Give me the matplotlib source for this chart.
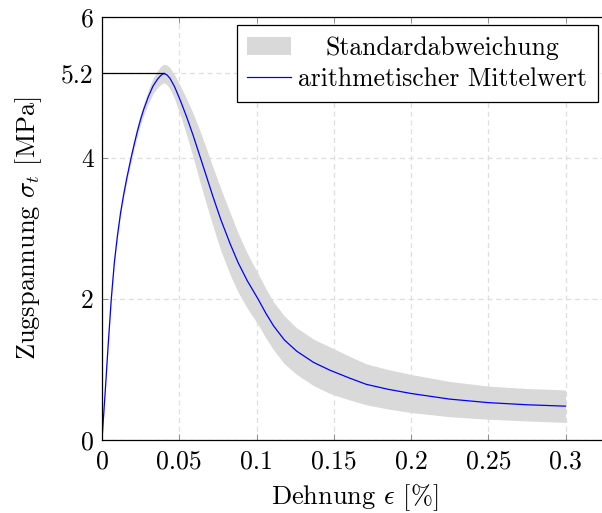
import numpy as np
import matplotlib.pyplot as plt

# Dehnung [%]
strain = [0.0, 0.002, 0.004, 0.006, 0.008, 0.010, 0.012, 0.014, 0.016, 0.019,
          0.021, 0.023, 0.025, 0.027, 0.030, 0.033, 0.036, 0.038, 0.040, 0.042,
          0.044, 0.047, 0.051, 0.055, 0.059, 0.063, 0.067, 0.072, 0.077, 0.083,
          0.088, 0.094, 0.101, 0.106, 0.111, 0.118, 0.126, 0.137, 0.1475, 0.160,
          0.171, 0.185, 0.200, 0.225, 0.250, 0.275, 0.300]
# arithmetischer Mittelwert [MPa]
stress_mean = [0.0, 0.66, 1.35, 2.0, 2.52, 2.90, 3.22, 3.48, 3.71, 4.02,
               4.21, 4.39, 4.55, 4.69, 4.87, 5.02, 5.12, 5.17, 5.20, 5.18,
               5.13, 5.01, 4.80, 4.57, 4.32, 4.05, 3.78, 3.44, 3.12, 2.78,
               2.52, 2.26, 2.0, 1.80, 1.62, 1.42, 1.26, 1.10, 0.99, 0.88,
               0.79, 0.72, 0.66, 0.58, 0.53, 0.50, 0.48]
# Standardabweichung [MPa]
stress_std = [0.0, 0.01, 0.02, 0.03, 0.03, 0.04, 0.04, 0.05, 0.05, 0.06,
              0.06, 0.07, 0.08, 0.08, 0.10, 0.11, 0.12, 0.13, 0.13, 0.14,
              0.15, 0.17, 0.21, 0.26, 0.31, 0.36, 0.39, 0.42, 0.44, 0.44,
              0.42, 0.39, 0.36, 0.35, 0.34, 0.34, 0.33, 0.33, 0.33, 0.31,
              0.29, 0.28, 0.27, 0.25, 0.235, 0.23, 0.23]

xticks = [0, 0.05, 0.1, 0.15, 0.2, 0.25, 0.3]
xticklabels = ['0', '0.05', '0.1', '0.15', '0.2', '0.25', '0.3']
yticks = [0, 2, 4, 5.2, 6]
yticklabels = ['0', '2', '4', '5.2', '6']

plt.rcParams['font.family'] = ['cmr10', 'DejaVu Serif']
plt.rcParams['mathtext.fontset'] = 'cm'
plt.rcParams['axes.unicode_minus'] = False

x = np.array(strain)
m = np.array(stress_mean)
s = np.array(stress_std)

fig = plt.figure(figsize=(6.02, 5.13), dpi=100)
ax = fig.add_axes([102 / 602, 73 / 513, 506 / 602, 423 / 513])

ax.fill_between(x, m - s, m + s, color='#d9d9d9', linewidth=0, label='Standardabweichung')
ax.plot(x, m, color='#0000ff', lw=0.9, label='arithmetischer Mittelwert')

# line to the peak value
ipk = int(np.argmax(m))
ax.plot([0, x[ipk]], [m[ipk], m[ipk]], color='black', lw=0.9)

ax.set_xlim(0, 0.3275)
ax.set_ylim(0, 6)
ax.set_xticks(xticks)
ax.set_xticklabels(xticklabels)
ax.set_yticks(yticks)
ax.set_yticklabels(yticklabels)
ax.tick_params(direction='in', length=4, width=0.6, color='#808080', labelsize=18.5,
               top=True, right=True)
ax.tick_params(axis='x', pad=7)
ax.tick_params(axis='y', pad=6)
ax.grid(True, color='#dedede', lw=0.9, ls=(0, (4, 3)))
ax.set_axisbelow(True)
for sp in ax.spines.values():
    sp.set_linewidth(0.9)

ax.set_xlabel('Dehnung $\\epsilon$ [%]', fontsize=19, labelpad=6)
ax.set_ylabel('Zugspannung $\\sigma_t$ [MPa]', fontsize=19, labelpad=12)

leg = ax.legend(loc='upper right', bbox_to_anchor=(0.98, 0.98), borderaxespad=0,
                fontsize=18.5, fancybox=False, edgecolor='black', framealpha=1,
                handlelength=1.7, handletextpad=0.27, labelspacing=0.28, borderpad=0.42)
leg.get_frame().set_linewidth(0.9)

# center the legend texts like pgfplots does
r = fig.canvas.get_renderer()
texts = leg.get_texts()
widths = [t.get_window_extent(r).width for t in texts]
wmax = max(widths)
for t, w in zip(texts, widths):
    t.set_position(((wmax - w) / 2, 0))

fig.savefig('out.png', dpi=100)
